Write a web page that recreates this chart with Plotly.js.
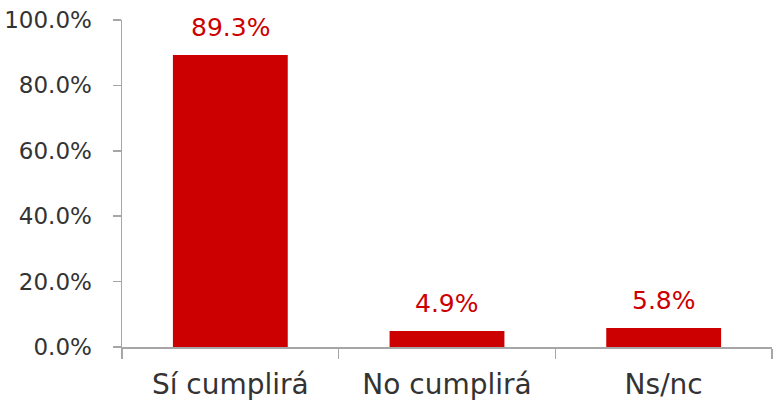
<!DOCTYPE html>
<html>
<head>
<meta charset="utf-8">
<script src="https://cdn.plot.ly/plotly-3.0.1.min.js"></script>
<style>html,body{margin:0;padding:0;background:#fff;}#chart{width:781px;height:411px;}</style>
</head>
<body>
<div id="chart"></div>
<script>
var categories = ["Sí cumplirá", "No cumplirá", "Ns/nc"];
var values = [89.3, 4.9, 5.8];
var labels = ["89.3%", "4.9%", "5.8%"];
var yTicks = [0, 20, 40, 60, 80, 100];

var trace = {
  type: 'bar',
  x: categories,
  y: values,
  marker: {color: '#cc0000'},
  hoverinfo: 'none'
};

var annotations = categories.map(function(c, i){
  return {
    x: c, y: values[i], xref: 'x', yref: 'y',
    text: labels[i], showarrow: false,
    yanchor: 'bottom', xanchor: 'center', yshift: 11,
    font: {family: 'DejaVu Sans', size: 25, color: '#cc0000'}
  };
});

var layout = {
  width: 781, height: 411,
  margin: {l: 122, r: 9, t: 20, b: 64},
  paper_bgcolor: '#fff', plot_bgcolor: '#fff',
  bargap: 0.47,
  showlegend: false,
  annotations: annotations,
  font: {family: 'DejaVu Sans', color: '#333333'},
  xaxis: {
    type: 'category',
    showline: true, linecolor: '#a6a6a6', linewidth: 1.5,
    ticks: 'outside', tickson: 'boundaries', ticklen: 10, tickcolor: '#a6a6a6', tickwidth: 1.5,
    ticklabelstandoff: 12,
    tickfont: {family: 'DejaVu Sans', size: 28, color: '#333333'},
    showgrid: false, zeroline: false
  },
  yaxis: {
    range: [0, 100],
    tickvals: yTicks,
    ticktext: yTicks.map(function(v){return v.toFixed(1) + '%';}),
    showline: true, linecolor: '#a6a6a6', linewidth: 1.5,
    ticks: 'outside', ticklen: 8, tickcolor: '#a6a6a6', tickwidth: 1.5,
    ticklabelstandoff: 16,
    tickfont: {family: 'DejaVu Sans', size: 23, color: '#333333'},
    showgrid: false, zeroline: false
  }
};

Plotly.newPlot('chart', [trace], layout, {displayModeBar: false, staticPlot: true});
</script>
</body>
</html>
